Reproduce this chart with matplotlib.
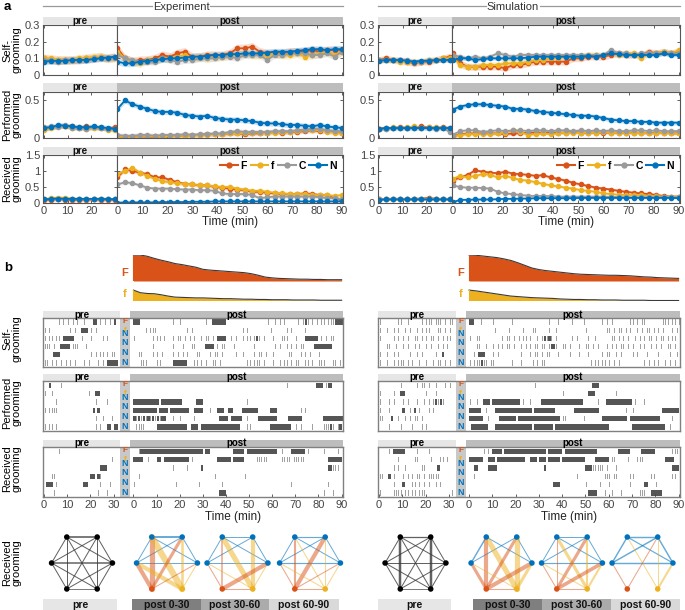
import numpy as np
import matplotlib
matplotlib.use("Agg")
import matplotlib.pyplot as plt
from matplotlib.patches import Rectangle
from matplotlib.lines import Line2D

plt.rcParams['font.family'] = ['Liberation Sans', 'DejaVu Sans']

W, H = 685, 610
C_F, C_f, C_C, C_N = '#D95319', '#EDB120', '#9A9A9A', '#0072BD'
GROUPS = ['F', 'f', 'C', 'N']
GROUP_COLORS = [C_F, C_f, C_C, C_N]

PRE_T = np.arange(0, 31, 3)
POST_T = np.arange(0, 91, 3)

# ---------------- panel a: time series (3-min bins) ----------------
EXP_SELF_PRE = {
    'F': [0.10, 0.09, 0.09, 0.09, 0.09, 0.09, 0.10, 0.10, 0.11, 0.10, 0.11],
    'f': [0.10, 0.10, 0.09, 0.09, 0.09, 0.10, 0.10, 0.11, 0.11, 0.10, 0.10],
    'C': [0.09, 0.09, 0.08, 0.09, 0.09, 0.09, 0.09, 0.10, 0.10, 0.10, 0.10],
    'N': [0.08, 0.085, 0.085, 0.085, 0.09, 0.09, 0.09, 0.095, 0.10, 0.105, 0.11]}
EXP_SELF_POST = {
    'F': [0.16, 0.10, 0.08, 0.09, 0.09, 0.10, 0.12, 0.11, 0.13, 0.14, 0.11, 0.11, 0.12, 0.12, 0.12, 0.13,
          0.16, 0.16, 0.17, 0.14, 0.13, 0.13, 0.13, 0.14, 0.14, 0.14, 0.15, 0.14, 0.15, 0.15, 0.15],
    'f': [0.14, 0.10, 0.08, 0.07, 0.09, 0.09, 0.10, 0.10, 0.11, 0.12, 0.10, 0.11, 0.10, 0.11, 0.11, 0.12,
          0.12, 0.13, 0.12, 0.12, 0.12, 0.13, 0.12, 0.12, 0.13, 0.11, 0.12, 0.13, 0.14, 0.12, 0.14],
    'C': [0.12, 0.10, 0.09, 0.08, 0.08, 0.08, 0.10, 0.09, 0.08, 0.09, 0.09, 0.10, 0.10, 0.10, 0.11, 0.11,
          0.10, 0.12, 0.12, 0.12, 0.09, 0.12, 0.12, 0.13, 0.13, 0.13, 0.12, 0.12, 0.13, 0.11, 0.14],
    'N': [0.08, 0.07, 0.07, 0.08, 0.085, 0.09, 0.095, 0.10, 0.10, 0.105, 0.11, 0.11, 0.115, 0.12, 0.12, 0.125,
          0.125, 0.13, 0.13, 0.13, 0.135, 0.14, 0.14, 0.14, 0.145, 0.15, 0.155, 0.155, 0.15, 0.155, 0.155]}
EXP_SELF_SEM = [0.025, 0.025, 0.02, 0.02]

EXP_PERF_PRE = {
    'F': [0.12, 0.14, 0.15, 0.16, 0.15, 0.13, 0.15, 0.14, 0.13, 0.12, 0.14],
    'f': [0.11, 0.13, 0.16, 0.15, 0.13, 0.14, 0.12, 0.13, 0.14, 0.11, 0.10],
    'C': [0.14, 0.15, 0.14, 0.17, 0.13, 0.13, 0.12, 0.14, 0.13, 0.12, 0.12],
    'N': [0.13, 0.14, 0.17, 0.16, 0.15, 0.14, 0.14, 0.15, 0.14, 0.13, 0.12]}
EXP_PERF_POST = {
    'F': [0.02, 0.01, 0.01, 0.01, 0.01, 0.02, 0.02, 0.02, 0.03, 0.03, 0.04, 0.04, 0.05, 0.05, 0.05, 0.06,
          0.06, 0.05, 0.06, 0.06, 0.07, 0.08, 0.07, 0.08, 0.08, 0.09, 0.10, 0.09, 0.09, 0.08, 0.07],
    'f': [0.02, 0.01, 0.01, 0.01, 0.02, 0.02, 0.02, 0.02, 0.03, 0.03, 0.03, 0.04, 0.04, 0.05, 0.05, 0.06,
          0.06, 0.06, 0.07, 0.07, 0.06, 0.07, 0.08, 0.08, 0.09, 0.10, 0.11, 0.10, 0.08, 0.07, 0.06],
    'C': [0.04, 0.03, 0.03, 0.04, 0.04, 0.03, 0.04, 0.04, 0.04, 0.05, 0.04, 0.05, 0.05, 0.06, 0.06, 0.08,
          0.09, 0.08, 0.08, 0.08, 0.08, 0.09, 0.09, 0.09, 0.10, 0.11, 0.12, 0.12, 0.10, 0.09, 0.09],
    'N': [0.38, 0.49, 0.44, 0.41, 0.38, 0.35, 0.34, 0.34, 0.33, 0.30, 0.29, 0.28, 0.29, 0.26, 0.25, 0.24,
          0.24, 0.23, 0.22, 0.20, 0.19, 0.19, 0.18, 0.17, 0.17, 0.16, 0.15, 0.17, 0.15, 0.14, 0.13]}
EXP_PERF_SEM = [0.03, 0.03, 0.03, 0.035]

EXP_RECV_PRE = {
    'F': [0.10, 0.10, 0.12, 0.10, 0.09, 0.10, 0.10, 0.11, 0.10, 0.10, 0.10],
    'f': [0.12, 0.15, 0.17, 0.16, 0.14, 0.13, 0.13, 0.12, 0.14, 0.13, 0.12],
    'C': [0.12, 0.13, 0.13, 0.12, 0.12, 0.12, 0.12, 0.12, 0.12, 0.12, 0.12],
    'N': [0.11, 0.13, 0.14, 0.13, 0.13, 0.13, 0.13, 0.13, 0.13, 0.12, 0.12]}
EXP_RECV_POST = {
    'F': [0.80, 1.05, 1.00, 0.95, 0.90, 0.80, 0.80, 0.72, 0.65, 0.60, 0.58, 0.55, 0.55, 0.50, 0.48, 0.45,
          0.42, 0.40, 0.35, 0.35, 0.32, 0.30, 0.28, 0.28, 0.28, 0.30, 0.28, 0.25, 0.25, 0.15, 0.10],
    'f': [0.90, 1.00, 1.10, 0.95, 0.85, 0.75, 0.68, 0.65, 0.62, 0.60, 0.58, 0.55, 0.55, 0.52, 0.50, 0.50,
          0.45, 0.42, 0.38, 0.38, 0.35, 0.32, 0.30, 0.28, 0.28, 0.28, 0.25, 0.25, 0.25, 0.22, 0.25],
    'C': [0.58, 0.65, 0.62, 0.55, 0.48, 0.45, 0.45, 0.45, 0.43, 0.42, 0.42, 0.40, 0.40, 0.38, 0.30, 0.28,
          0.28, 0.28, 0.25, 0.15, 0.18, 0.20, 0.20, 0.20, 0.20, 0.20, 0.20, 0.18, 0.15, 0.15, 0.12],
    'N': [0.01, 0.02, 0.02, 0.02, 0.02, 0.02, 0.03, 0.03, 0.03, 0.03, 0.04, 0.04, 0.04, 0.05, 0.05, 0.05,
          0.05, 0.05, 0.05, 0.05, 0.05, 0.05, 0.05, 0.05, 0.05, 0.05, 0.05, 0.05, 0.05, 0.05, 0.05]}
EXP_RECV_SEM = [0.06, 0.06, 0.05, 0.02]

SIM_SELF_PRE = {
    'F': [0.09, 0.10, 0.09, 0.09, 0.08, 0.07, 0.08, 0.08, 0.09, 0.10, 0.11],
    'f': [0.09, 0.09, 0.09, 0.08, 0.08, 0.08, 0.08, 0.09, 0.09, 0.10, 0.10],
    'C': [0.09, 0.09, 0.09, 0.09, 0.09, 0.08, 0.08, 0.09, 0.09, 0.09, 0.09],
    'N': [0.085, 0.09, 0.09, 0.09, 0.085, 0.08, 0.085, 0.085, 0.09, 0.09, 0.09]}
SIM_SELF_POST = {
    'F': [0.13, 0.07, 0.05, 0.05, 0.05, 0.05, 0.05, 0.04, 0.06, 0.06, 0.07, 0.08, 0.08, 0.08, 0.08, 0.08,
          0.10, 0.10, 0.11, 0.11, 0.11, 0.12, 0.13, 0.12, 0.12, 0.12, 0.14, 0.13, 0.14, 0.13, 0.14],
    'f': [0.11, 0.06, 0.05, 0.05, 0.06, 0.06, 0.06, 0.07, 0.07, 0.07, 0.08, 0.09, 0.09, 0.10, 0.10, 0.11,
          0.11, 0.11, 0.12, 0.12, 0.12, 0.14, 0.12, 0.13, 0.13, 0.10, 0.13, 0.13, 0.14, 0.13, 0.15],
    'C': [0.12, 0.11, 0.10, 0.11, 0.10, 0.11, 0.13, 0.12, 0.11, 0.12, 0.12, 0.12, 0.12, 0.12, 0.12, 0.12,
          0.12, 0.12, 0.12, 0.12, 0.12, 0.15, 0.13, 0.13, 0.12, 0.13, 0.13, 0.13, 0.13, 0.13, 0.13],
    'N': [0.09, 0.10, 0.10, 0.09, 0.095, 0.10, 0.10, 0.10, 0.10, 0.10, 0.105, 0.11, 0.11, 0.11, 0.11, 0.11,
          0.11, 0.11, 0.115, 0.11, 0.12, 0.13, 0.125, 0.12, 0.12, 0.12, 0.12, 0.12, 0.13, 0.12, 0.12]}
SIM_SELF_SEM = [0.02, 0.02, 0.015, 0.012]

SIM_PERF_PRE = {
    'F': [0.12, 0.13, 0.13, 0.14, 0.13, 0.14, 0.15, 0.14, 0.13, 0.14, 0.13],
    'f': [0.12, 0.12, 0.14, 0.13, 0.14, 0.15, 0.13, 0.14, 0.14, 0.13, 0.12],
    'C': [0.12, 0.12, 0.13, 0.13, 0.13, 0.13, 0.13, 0.13, 0.12, 0.13, 0.08],
    'N': [0.12, 0.13, 0.13, 0.13, 0.13, 0.13, 0.13, 0.13, 0.13, 0.13, 0.13]}
SIM_PERF_POST = {
    'F': [0.02, 0.05, 0.06, 0.06, 0.06, 0.06, 0.06, 0.05, 0.06, 0.06, 0.07, 0.07, 0.07, 0.07, 0.07, 0.07,
          0.08, 0.07, 0.07, 0.07, 0.07, 0.07, 0.07, 0.07, 0.07, 0.07, 0.06, 0.07, 0.07, 0.06, 0.06],
    'f': [0.02, 0.04, 0.05, 0.05, 0.05, 0.05, 0.06, 0.07, 0.10, 0.08, 0.04, 0.05, 0.06, 0.05, 0.06, 0.07,
          0.06, 0.07, 0.07, 0.07, 0.08, 0.07, 0.07, 0.07, 0.06, 0.07, 0.06, 0.06, 0.07, 0.06, 0.06],
    'C': [0.04, 0.09, 0.10, 0.10, 0.08, 0.09, 0.10, 0.09, 0.10, 0.10, 0.09, 0.10, 0.10, 0.09, 0.10, 0.10,
          0.09, 0.10, 0.09, 0.10, 0.09, 0.10, 0.09, 0.09, 0.10, 0.10, 0.09, 0.10, 0.09, 0.09, 0.09],
    'N': [0.37, 0.41, 0.43, 0.44, 0.44, 0.43, 0.42, 0.41, 0.38, 0.38, 0.37, 0.35, 0.34, 0.33, 0.32, 0.31,
          0.30, 0.29, 0.29, 0.28, 0.26, 0.24, 0.23, 0.22, 0.22, 0.21, 0.21, 0.20, 0.20, 0.20, 0.20]}
SIM_PERF_SEM = [0.02, 0.02, 0.02, 0.03]

SIM_RECV_PRE = {
    'F': [0.12, 0.13, 0.13, 0.13, 0.13, 0.13, 0.14, 0.16, 0.13, 0.13, 0.13],
    'f': [0.12, 0.13, 0.13, 0.13, 0.12, 0.13, 0.13, 0.13, 0.13, 0.13, 0.12],
    'C': [0.12, 0.12, 0.12, 0.12, 0.12, 0.12, 0.12, 0.12, 0.12, 0.12, 0.12],
    'N': [0.10, 0.11, 0.11, 0.11, 0.11, 0.11, 0.11, 0.11, 0.11, 0.11, 0.11]}
SIM_RECV_POST = {
    'F': [0.70, 0.80, 0.88, 1.02, 0.98, 0.95, 0.93, 0.98, 0.92, 0.90, 0.88, 0.85, 0.87, 0.80, 0.75, 0.70,
          0.63, 0.58, 0.53, 0.48, 0.45, 0.42, 0.38, 0.35, 0.32, 0.30, 0.28, 0.25, 0.22, 0.20, 0.20],
    'f': [0.75, 0.85, 0.80, 0.85, 0.90, 0.88, 0.80, 0.85, 0.78, 0.72, 0.70, 0.65, 0.60, 0.55, 0.52, 0.48,
          0.45, 0.40, 0.38, 0.35, 0.30, 0.28, 0.26, 0.25, 0.25, 0.24, 0.22, 0.22, 0.20, 0.20, 0.20],
    'C': [0.55, 0.50, 0.48, 0.48, 0.47, 0.45, 0.35, 0.30, 0.28, 0.25, 0.23, 0.22, 0.22, 0.22, 0.20, 0.20,
          0.20, 0.20, 0.20, 0.20, 0.20, 0.19, 0.19, 0.18, 0.18, 0.18, 0.18, 0.18, 0.18, 0.18, 0.18],
    'N': [0.02, 0.10, 0.10, 0.11, 0.11, 0.11, 0.12, 0.13, 0.13, 0.14, 0.14, 0.15, 0.15, 0.15, 0.15, 0.15,
          0.15, 0.16, 0.16, 0.16, 0.16, 0.16, 0.16, 0.16, 0.16, 0.16, 0.16, 0.16, 0.16, 0.16, 0.15]}
SIM_RECV_SEM = [0.05, 0.05, 0.03, 0.02]

# ---------------- panel b: number of F / f animals (area) ----------------
EXP_AREA_F = [1.00, 1.00, 0.95, 0.87, 0.80, 0.74, 0.67, 0.63, 0.58, 0.53, 0.45, 0.42, 0.40, 0.38, 0.36, 0.34,
              0.32, 0.28, 0.22, 0.15, 0.12, 0.10, 0.09, 0.08, 0.07, 0.07, 0.06, 0.06, 0.05, 0.05, 0.05]
EXP_AREA_f = [0.40, 0.30, 0.27, 0.26, 0.22, 0.17, 0.13, 0.12, 0.11, 0.10, 0.10, 0.09, 0.08, 0.07, 0.07, 0.06,
              0.05, 0.05, 0.04, 0.04, 0.03, 0.03, 0.03, 0.02, 0.02, 0.02, 0.02, 0.01, 0.01, 0.01, 0.01]
SIM_AREA_F = [1.00, 0.99, 0.96, 0.93, 0.90, 0.85, 0.79, 0.70, 0.60, 0.50, 0.44, 0.40, 0.37, 0.34, 0.31, 0.28,
              0.26, 0.25, 0.24, 0.23, 0.22, 0.22, 0.21, 0.20, 0.18, 0.16, 0.15, 0.13, 0.12, 0.11, 0.10]
SIM_AREA_f = [0.40, 0.37, 0.33, 0.29, 0.25, 0.21, 0.17, 0.15, 0.13, 0.11, 0.10, 0.09, 0.08, 0.06, 0.05, 0.04,
              0.04, 0.03, 0.03, 0.02, 0.02, 0.02, 0.01, 0.01, 0.01, 0.01, 0.00, 0.00, 0.00, 0.00, 0.00]

# ---------------- panel b: rasters, one char per minute ('#' bout, '|' short bout) ----------------
EXP_SELF_RAS_PRE = [
    "......|.|.|.|.|..|...##.|.|.|.#.",
    "|.|........|.|..###.|.|.........",
    "|.||.||.#####...|...|....|.|....",
    "|||.|..####.|||...|.............",
    "....###.............|.|.||.|.||.",
    "||.|.|.|.|.|.|.|.|.|...|.|.#####"]
EXP_SELF_RAS_POST = [
    "###..............|..|..........|..######..................|..|.|.|.....|.|#|.|.|.||.|||####",
    ".....|.|||.............|.|.....................|.|.........|......|.|.....|................",
    "|.......|.||.||..|.||.|.|.|..|.||.|.####..|.|..|.||.|#|.|...|...|||...|...######.|.|.||....",
    "........|.....|..|...|...||....####.|.||...|........|........|.|..|.|.|.||....########.....",
    "..||....|.|.|.|..|.|.|.|...||.|..|.||.|.....|..|....|.||.|..|.|....||...|.|.|.|.|..........",
    "...|||....||.....######...||.|.|..||.|...........||.|||.|...|.||.||.|.||..||.|..|||...||.|"]
EXP_PERF_RAS_PRE = [
    "..#....|........................",
    "|..|...............|..##........",
    ".....|................|....|....",
    "|.||||...............#.#........",
    "......................|..|...|.|",
    "|.||.|................|.|..##.##"]
EXP_PERF_RAS_POST = [
    "..................................................................|............###.|##....",
    "",
    "###########.#########......###...................|........................................",
    "##########.####.########..####...|..###..##....#######.....###..........|.|................#.",
    "#|#|#|#|#|#|##...|..|.....|..........####.#####..|....########.....######.........#########.",
    ".||||.....#############..###.#################...||........#########..|.|....|....|||#|.|#."]
EXP_RECV_RAS_PRE = [
    "......|.........................",
    ".............................|..",
    "........................###.....",
    "...||...............##.#|.......",
    ".###.|...........##.....|...|...",
    "....|..................|...|...."]
EXP_RECV_RAS_POST = [
    "..|###########################.##..........#####.#############..|...######.|......|.....|...",
    "####..|...##.###########.|..........######.#####.....|||||......||||.|||||..........######.",
    ".................|.....|.....#......................................................##|||..|",
    "..|................................|............|...........................................",
    "|.................|.........|.........|.............................|...............|......",
    ".....................................###..........................................|...|...."]
SIM_SELF_RAS_PRE = [
    "|.|.....||..|.....|.|||.|||.|.||",
    "|.||.||.|..|.|..|.|.||...||.|.|.",
    "|.|..||.|.|.|..||.|.|.||.|.|.||.",
    "..|||..|..|.|..|.|..|.|..|.|.|..",
    "|..|..|.|....|..|.|.....|..#....",
    "|.||.||.|||.|.|..|..|..|.||.|.|."]
SIM_SELF_RAS_POST = [
    "##...|....|.......|...............|...|.....|....|.......|.|.|.......||.|.||.......|||.||.|.",
    "...........|.....|.....|...||.....|..|....|.......|........||.|.||.|.|..|.|.||.|.|.|...|.|",
    "|..||.........|.||.|.|.||.|..|.|#|#|.|.|..|.|.|.|..|..|......||.|.|.|..|.|.|.||.|.||.|.||",
    "...||..|..|.|.|.||.|..|.|.|.||.||.|##|.|||.|.|.||.||.|.|...|.|.|.||.|.|..|.|..|.|.|..||.|",
    "..|.###...|.|.........|...|.||.|.||...|....|...|...|.....|.||..|.|....|.|...|....|....|..|",
    "|.|||#||.||.......|...|....|.|.||...|.....|.........|.||.||.|.|.|..........|.|.|.|..|.|.|."]
SIM_PERF_RAS_PRE = [
    ".........|......|.||.|..|...|.|.",
    "|.|...|..##.........|...|.......",
    "|...|.|...|.|...|..|.|.|#|#|....",
    "|...|.....#..|.#.|...|.|........",
    "|||..#..|..|.|.||.|.............",
    "..|.||...|....|...|.|..........."]
SIM_PERF_RAS_POST = [
    "............................|........................###...................................",
    "........................................|..........###.........|...........................",
    "|..|..###.############.|..|....##################......|...###########.|...|...............",
    "#####..|...################.#########........###########...........|..|............#######.",
    "######..|....#######.##################.|||..|...|.......###########.#############.....|....",
    ".#######...################.########.#######################..........##############..|....|"]
SIM_RECV_RAS_PRE = [
    "..|.|.#####.....|....|..........",
    "..|.....|......||.....|...||.|..",
    "......|.|..|......||.....#......",
    "||..#.|...|.|.|.||.|.|||||......",
    "..|...|...#...||.|.|.|..|.|.....",
    "|.|...||||.||.||.|||...........|"]
SIM_RECV_RAS_POST = [
    "......|.|.####.##################.######.##############.........#####.....######.......|||...",
    "######..###.############..###.###.#####.##########....######.||.....|...|||.........####....",
    "..##....####....................#.................###|||||.|...|.......................###",
    "..|...........................................|...........|||.||.....||.......||.......||..",
    "....................................###...........|.....|...|........|.....##...|..........",
    "..........................................|........####...|..|...|.......|||..#####......."]

# ---------------- panel b: networks (pairs of nodes TL, TR, L, R, F, f) ----------------
PAIRS = [(0, 1), (0, 2), (0, 3), (0, 4), (0, 5), (1, 2), (1, 3), (1, 4), (1, 5),
         (2, 3), (2, 4), (2, 5), (3, 4), (3, 5), (4, 5)]
EXP_NET_PRE = [2.0, 1.2, 1.2, 1.2, 1.2, 1.2, 1.2, 1.2, 1.2, 1.8, 1.2, 1.2, 1.2, 1.2, 1.0]
EXP_NET_0_30 = [2.0, 1.0, 1.0, 5.0, 6.0, 1.0, 1.0, 3.0, 2.5, 1.0, 4.0, 4.0, 1.0, 1.0, 0.0]
EXP_NET_30_60 = [1.0, 1.0, 1.0, 1.5, 5.0, 1.0, 1.0, 0.0, 4.0, 1.0, 1.0, 1.0, 4.0, 1.0, 1.0]
EXP_NET_60_90 = [1.2, 1.0, 1.0, 2.0, 1.0, 1.0, 1.0, 4.0, 1.0, 1.2, 1.0, 1.0, 1.0, 1.0, 1.0]
SIM_NET_PRE = [1.5, 1.2, 1.2, 3.0, 1.2, 1.2, 1.2, 1.2, 3.0, 1.2, 1.2, 1.2, 1.2, 1.2, 1.0]
SIM_NET_0_30 = [0.0, 1.5, 1.0, 4.0, 5.0, 1.0, 1.0, 3.0, 5.0, 0.0, 3.0, 1.0, 4.0, 3.0, 1.0]
SIM_NET_30_60 = [1.0, 1.0, 1.0, 1.0, 3.0, 1.0, 1.0, 3.0, 2.0, 1.2, 1.0, 1.0, 3.5, 2.0, 1.0]
SIM_NET_60_90 = [1.5, 1.5, 1.2, 0.0, 1.0, 1.5, 1.5, 1.0, 1.0, 1.5, 1.0, 0.0, 0.0, 2.0, 0.0]
NET_PERIODS = ['pre', 'post 0-30', 'post 30-60', 'post 60-90']
PERIOD_COLORS = ['#E6E6E6', '#7F7F7F', '#ABABAB', '#D9D9D9']

# ============================ layout helpers ============================
fig = plt.figure(figsize=(6.85, 6.10), dpi=100)


def add_ax(x0, y0, x1, y1):
    return fig.add_axes([x0 / W, 1 - y1 / H, (x1 - x0) / W, (y1 - y0) / H])


def fig_rect(x0, y0, x1, y1, color, text=None, fs=7):
    fig.patches.append(Rectangle((x0 / W, 1 - y1 / H), (x1 - x0) / W, (y1 - y0) / H,
                                 transform=fig.transFigure, fc=color, ec='none'))
    if text:
        fig.text((x0 + x1) / 2 / W, 1 - (y0 + y1) / 2 / H, text, ha='center', va='center',
                 fontsize=fs, fontweight='bold', color='#111111')


def fig_text(x, y, s, **kw):
    fig.text(x / W, 1 - y / H, s, **kw)


def fig_line(x0, x1, y):
    fig.add_artist(Line2D([x0 / W, x1 / W], [1 - y / H, 1 - y / H], transform=fig.transFigure,
                          color='#9A9A9A', lw=0.9))


def style(ax):
    for sp in ax.spines.values():
        sp.set_color('#555555')
        sp.set_linewidth(0.8)
    ax.tick_params(direction='in', length=2.5, width=0.6, colors='#444444', labelsize=8,
                   pad=2, top=True, right=True)


# ============================ panel a ============================
SIDES = [dict(pre=(43, 117), post=(117, 343), title='Experiment', tx=181, l1=(43, 152), l2=(210, 343),
              ts=[(EXP_SELF_PRE, EXP_SELF_POST, EXP_SELF_SEM),
                  (EXP_PERF_PRE, EXP_PERF_POST, EXP_PERF_SEM),
                  (EXP_RECV_PRE, EXP_RECV_POST, EXP_RECV_SEM)]),
         dict(pre=(378, 452), post=(452, 680), title='Simulation', tx=513, l1=(378, 486), l2=(540, 680),
              ts=[(SIM_SELF_PRE, SIM_SELF_POST, SIM_SELF_SEM),
                  (SIM_PERF_PRE, SIM_PERF_POST, SIM_PERF_SEM),
                  (SIM_RECV_PRE, SIM_RECV_POST, SIM_RECV_SEM)])]
ROWS_Y = [(17, 25, 75), (83, 92, 138), (147, 155, 203)]
YMAX = [0.3, 0.6, 1.5]
YTICKS = [[0, 0.1, 0.2, 0.3], [0, 0.5], [0, 0.5, 1, 1.5]]
YTICKLABELS = [['0', '0.1', '0.2', '0.3'], ['0', '0.5'], ['0', '0.5', '1', '1.5']]
ROW_LABELS = ['Self-\ngrooming', 'Performed\ngrooming', 'Received\ngrooming']
LABEL_X = 12


def draw_series(ax, t, data, sem):
    for g, c, s in zip(GROUPS, GROUP_COLORS, sem):
        v = np.asarray(data[g])
        ax.fill_between(t, v - s, v + s, color=c, alpha=0.2, lw=0)
        ax.plot(t, v, '-o', color=c, lw=1.3, ms=3.0, mec=c)


for si, side in enumerate(SIDES):
    fig_line(*side['l1'], 6)
    fig_line(*side['l2'], 6)
    fig_text(side['tx'], 6.5, side['title'], ha='center', va='center', fontsize=8, color='#333333')
    for r, (hy, y0, y1) in enumerate(ROWS_Y):
        pre_d, post_d, sem = side['ts'][r]
        fig_rect(side['pre'][0], hy, side['pre'][1], y0, '#E6E6E6', 'pre')
        fig_rect(side['post'][0], hy, side['post'][1], y0, '#BDBDBD', 'post')
        axp = add_ax(side['pre'][0], y0, side['pre'][1], y1)
        axq = add_ax(side['post'][0], y0, side['post'][1], y1)
        draw_series(axp, PRE_T, pre_d, sem)
        draw_series(axq, POST_T, post_d, sem)
        for ax in (axp, axq):
            style(ax)
            ax.set_ylim(0, YMAX[r])
            ax.set_yticks(YTICKS[r])
        axp.set_yticklabels(YTICKLABELS[r])
        axq.set_yticklabels([])
        axp.set_xlim(-0.5, 31)
        axq.set_xlim(-0.2, 90.4)
        axp.set_xticks([0, 10, 20])
        axq.set_xticks(range(0, 91, 10))
        if r < 2:
            axp.set_xticklabels([])
            axq.set_xticklabels([])
        else:
            handles = [Line2D([], [], color=c, marker='o', lw=1.5, ms=3.5) for c in GROUP_COLORS]
            axq.legend(handles, GROUPS, ncol=4, loc='upper right', frameon=False,
                       prop={'size': 7.5, 'weight': 'bold'}, handlelength=1.7, handletextpad=0.25,
                       columnspacing=0.35, borderaxespad=0.15)
            fig_text((side['post'][0] + side['post'][1]) / 2, 222, 'Time (min)', ha='center',
                     va='center', fontsize=8.5, color='#222222')
        if si == 0:
            fig_text(LABEL_X, (y0 + y1) / 2, ROW_LABELS[r], rotation=90, ha='center', va='center',
                     fontsize=8, linespacing=1.0)

fig_text(4, 7, 'a', fontsize=9.5, fontweight='bold', va='center')
fig_text(4, 268, 'b', fontsize=9.5, fontweight='bold', va='center')

# ============================ panel b ============================
OFF = 38.6
XLIM = (-0.5, 129.2)
STRIP = (32.8, 37.1)
BOX_X = [(43, 343), (378, 680)]
RASTER_Y = [(318, 367), (381, 431), (447, 497)]
RASTERS = [[(EXP_SELF_RAS_PRE, EXP_SELF_RAS_POST), (EXP_PERF_RAS_PRE, EXP_PERF_RAS_POST),
            (EXP_RECV_RAS_PRE, EXP_RECV_RAS_POST)],
           [(SIM_SELF_RAS_PRE, SIM_SELF_RAS_POST), (SIM_PERF_RAS_PRE, SIM_PERF_RAS_POST),
            (SIM_RECV_RAS_PRE, SIM_RECV_RAS_POST)]]
AREAS = [(EXP_AREA_F, EXP_AREA_f), (SIM_AREA_F, SIM_AREA_f)]


def bouts(row, off, limit):
    bars, ticks = [], []
    for j, ch in enumerate(row[:limit]):
        if ch == '#':
            bars.append((off + j, 1.0))
        elif ch == '|':
            ticks.append((off + j + 0.3, 0.4))
    return bars, ticks


for si in range(2):
    bx0, bx1 = BOX_X[si]
    # area traces of F and f animals
    for (ay0, ay1, ymax), vals, c, lab in zip([(255, 281, 1.0), (287.5, 300.5, 0.5)], AREAS[si],
                                               [C_F, C_f], ['F', 'f']):
        axa = add_ax(bx0, ay0, bx1, ay1)
        axa.fill_between(OFF + POST_T, 0, vals, color=c, lw=0)
        axa.plot(OFF + POST_T, vals, color='#3a3a3a', lw=0.8)
        axa.plot([OFF, OFF + 90], [0, 0], color='#222222', lw=0.7)
        axa.plot([OFF, OFF], [0, vals[0]], color=c, lw=0.8)
        axa.set_xlim(*XLIM)
        axa.set_ylim(0, ymax)
        axa.axis('off')
        axa.text(sum(STRIP) / 2, 0.1 * ymax, lab, color=c, fontsize=8, fontweight='bold',
                 ha='center', va='bottom')

    for r, (y0, y1) in enumerate(RASTER_Y):
        pre_rows, post_rows = RASTERS[si][r]
        ax = add_ax(bx0, y0, bx1, y1)
        ax.set_xlim(*XLIM)
        ax.set_ylim(6, 0)
        ax.axvspan(*STRIP, color='#C8C8C8', lw=0)
        for i in range(6):
            for row, off, lim in ((pre_rows[i], 0.0, 33), (post_rows[i], OFF, 91)):
                bars, ticks = bouts(row, off, lim)
                if ticks:
                    ax.broken_barh(ticks, (i + 0.18, 0.64), facecolors='#A0A0A0')
                if bars:
                    ax.broken_barh(bars, (i + 0.18, 0.64), facecolors='#555555')
        # animal labels in the strip: F (row 0), f (row 1), four N (rows 2-5)
        cx = sum(STRIP) / 2
        ax.text(cx, 0.42, 'F', color=C_F, fontsize=6, fontweight='bold', ha='center', va='center')
        ax.text(cx, 1.5, 'f', color=C_f, fontsize=6, fontweight='bold', ha='center', va='center')
        ax.text(cx, 5.98, 'N\nN\nN\nN', color=C_N, fontsize=6.5, fontweight='bold', ha='center',
                va='bottom', linespacing=1.1)
        for sp in ax.spines.values():
            sp.set_color('#808080')
            sp.set_linewidth(1.0)
        ax.set_yticks([])
        tr = ax.get_xaxis_transform()
        hh = 7.0 / (y1 - y0)
        ax.add_patch(Rectangle((XLIM[0], 1.0), STRIP[0] - XLIM[0], hh, transform=tr, clip_on=False,
                               fc='#E6E6E6', ec='none'))
        ax.add_patch(Rectangle((STRIP[1], 1.0), XLIM[1] - STRIP[1], hh, transform=tr, clip_on=False,
                               fc='#BDBDBD', ec='none'))
        ax.text((XLIM[0] + STRIP[0]) / 2, 1.0 + hh / 2, 'pre', transform=tr, ha='center', va='center',
                fontsize=7, fontweight='bold')
        ax.text((STRIP[1] + XLIM[1]) / 2, 1.0 + hh / 2, 'post', transform=tr, ha='center',
                va='center', fontsize=7, fontweight='bold')
        if r == 2:
            ticks_x = [0, 10, 20, 30] + [OFF + t for t in range(0, 91, 10)]
            ax.set_xticks(ticks_x)
            ax.set_xticklabels(['0', '10', '20', '30'] + [str(t) for t in range(0, 91, 10)])
            ax.tick_params(axis='x', direction='in', length=2, width=0.6, colors='#444444',
                           labelsize=8, pad=2)
            fig_text((bx0 + bx1) / 2 + 40, 517, 'Time (min)', ha='center', va='center', fontsize=8.5,
                     color='#222222')
        else:
            ax.set_xticks([])
        if si == 0:
            fig_text(LABEL_X, (y0 - 7 + y1) / 2, ROW_LABELS[r], rotation=90, ha='center', va='center',
                     fontsize=8, linespacing=1.0)

# ---------------- networks ----------------
ANG = np.deg2rad([120, 60, 180, 0, 240, 300])
NX, NY = np.cos(ANG), np.sin(ANG)
NODE_POST = [C_N, C_N, C_N, C_N, C_F, C_f]
NETS = [[EXP_NET_PRE, EXP_NET_0_30, EXP_NET_30_60, EXP_NET_60_90],
        [SIM_NET_PRE, SIM_NET_0_30, SIM_NET_30_60, SIM_NET_60_90]]
NET_CX = [[82, 167, 237.5, 310], [415.5, 501.5, 572, 642.5]]
LABEL_BARS = [[(43, 117), (132, 201), (201, 269), (269, 339)],
              [(378, 451), (473, 542), (542, 611), (611, 680)]]


def draw_net(ax, widths, pre):
    order = sorted(range(len(PAIRS)), key=lambda k: (4 in PAIRS[k] or 5 in PAIRS[k]))
    for k in order:
        w = widths[k]
        if w <= 0:
            continue
        a, b = PAIRS[k]
        if pre:
            c, al, sc = '#3a3a3a', 0.8, 0.6
        elif 4 in (a, b):
            c, al, sc = C_F, 0.5, 0.75
        elif 5 in (a, b):
            c, al, sc = C_f, 0.5, 0.75
        else:
            c, al, sc = C_N, 0.6, 0.7
        ax.plot([NX[a], NX[b]], [NY[a], NY[b]], color=c, alpha=al, lw=w * sc,
                solid_capstyle='round')
    cols = ['black'] * 6 if pre else NODE_POST
    ax.scatter(NX, NY, s=16, c=cols, zorder=5, lw=0)
    ax.set_xlim(-1.15, 1.15)
    ax.set_ylim(-1.0, 1.0)
    ax.axis('off')


for si in range(2):
    for p in range(4):
        cx = NET_CX[si][p]
        axn = add_ax(cx - 35, 533, cx + 35, 593)
        draw_net(axn, NETS[si][p], p == 0)
        lx0, lx1 = LABEL_BARS[si][p]
        fig_rect(lx0, 599, lx1, 610, PERIOD_COLORS[p], NET_PERIODS[p], fs=7.5)
fig_text(LABEL_X, 563, ROW_LABELS[2], rotation=90, ha='center', va='center', fontsize=8,
         linespacing=1.0)

fig.savefig('out.png', dpi=100)
